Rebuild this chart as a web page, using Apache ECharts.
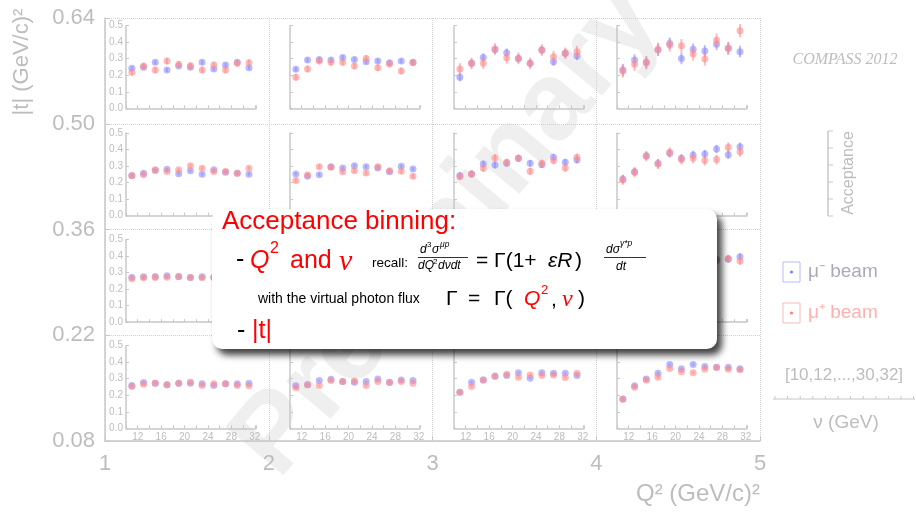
<!DOCTYPE html>
<html>
<head>
<meta charset="utf-8">
<script src="https://cdn.jsdelivr.net/npm/echarts@6/dist/echarts.min.js"></script>
<style>
  html, body { margin: 0; padding: 0; background: #fff; }
  #main { width: 916px; height: 514px; }
</style>
</head>
<body>
<div id="main"></div>
<script>
// nu bin centres of [10,12,...,30,32]
var nuBins = [11, 13, 15, 17, 19, 21, 23, 25, 27, 29, 31];
var q2Labels = ['1', '2', '3', '4', '5'];
var tLabels = ['0.08', '0.22', '0.36', '0.50', '0.64'];

// acceptance per panel, top |t| row first, left to right in Q2
var accMinus = [
  [0.242, 0.248, 0.278, 0.232, 0.256, 0.248, 0.278, 0.238, 0.262, 0.278, 0.246],
  [0.236, 0.292, 0.296, 0.292, 0.308, 0.296, 0.282, 0.286, 0.276, 0.286, 0.278],
  [0.188, 0.272, 0.308, 0.355, 0.337, 0.302, 0.272, 0.353, 0.282, 0.333, 0.317],
  [0.232, 0.292, 0.278, 0.353, 0.393, 0.302, 0.357, 0.347, 0.387, 0.363, 0.343],
  [0.243, 0.257, 0.273, 0.281, 0.253, 0.271, 0.251, 0.277, 0.263, 0.257, 0.251],
  [0.252, 0.238, 0.248, 0.296, 0.288, 0.302, 0.296, 0.288, 0.266, 0.298, 0.282],
  [0.242, 0.252, 0.312, 0.306, 0.317, 0.347, 0.317, 0.308, 0.353, 0.323, 0.337],
  [0.222, 0.266, 0.363, 0.317, 0.377, 0.347, 0.367, 0.373, 0.403, 0.369, 0.417],
  [0.272, 0.274, 0.276, 0.280, 0.276, 0.270, 0.275, 0.270, 0.268, 0.272, 0.270],
  [0.250, 0.280, 0.290, 0.300, 0.295, 0.300, 0.290, 0.300, 0.295, 0.290, 0.300],
  [0.240, 0.270, 0.300, 0.310, 0.320, 0.330, 0.330, 0.340, 0.330, 0.340, 0.340],
  [0.220, 0.270, 0.320, 0.340, 0.360, 0.370, 0.370, 0.380, 0.380, 0.380, 0.395],
  [0.259, 0.277, 0.273, 0.263, 0.273, 0.273, 0.269, 0.259, 0.269, 0.269, 0.273],
  [0.257, 0.263, 0.289, 0.297, 0.283, 0.279, 0.283, 0.299, 0.279, 0.293, 0.289],
  [0.218, 0.279, 0.293, 0.317, 0.319, 0.337, 0.303, 0.337, 0.333, 0.333, 0.319],
  [0.178, 0.257, 0.299, 0.333, 0.386, 0.360, 0.386, 0.374, 0.370, 0.370, 0.360]
];
var accPlus = [
  [0.218, 0.256, 0.232, 0.286, 0.266, 0.258, 0.232, 0.262, 0.232, 0.272, 0.276],
  [0.188, 0.238, 0.286, 0.278, 0.278, 0.256, 0.302, 0.246, 0.268, 0.226, 0.276],
  [0.238, 0.272, 0.272, 0.359, 0.306, 0.302, 0.272, 0.353, 0.312, 0.333, 0.343],
  [0.226, 0.266, 0.276, 0.357, 0.383, 0.379, 0.329, 0.298, 0.413, 0.363, 0.470],
  [0.241, 0.247, 0.277, 0.267, 0.277, 0.302, 0.287, 0.267, 0.267, 0.257, 0.287],
  [0.212, 0.246, 0.296, 0.292, 0.266, 0.272, 0.258, 0.296, 0.272, 0.268, 0.238],
  [0.236, 0.252, 0.286, 0.349, 0.323, 0.347, 0.268, 0.317, 0.333, 0.288, 0.353],
  [0.216, 0.262, 0.359, 0.312, 0.383, 0.339, 0.347, 0.333, 0.339, 0.413, 0.387],
  [0.262, 0.268, 0.270, 0.272, 0.274, 0.270, 0.268, 0.272, 0.266, 0.270, 0.268],
  [0.230, 0.270, 0.290, 0.290, 0.300, 0.290, 0.300, 0.290, 0.290, 0.300, 0.280],
  [0.230, 0.260, 0.300, 0.310, 0.330, 0.320, 0.340, 0.330, 0.340, 0.330, 0.350],
  [0.210, 0.260, 0.310, 0.350, 0.350, 0.370, 0.360, 0.380, 0.370, 0.385, 0.370],
  [0.253, 0.267, 0.273, 0.263, 0.273, 0.281, 0.259, 0.269, 0.269, 0.259, 0.257],
  [0.246, 0.263, 0.259, 0.289, 0.283, 0.287, 0.259, 0.283, 0.277, 0.283, 0.273],
  [0.218, 0.253, 0.293, 0.313, 0.327, 0.309, 0.323, 0.319, 0.323, 0.307, 0.333],
  [0.176, 0.248, 0.293, 0.309, 0.362, 0.343, 0.337, 0.358, 0.368, 0.358, 0.354]
];
// rough half error per panel
var errMinus = [0.012, 0.014, 0.025, 0.035, 0.008, 0.010, 0.020, 0.025, 0.006, 0.008, 0.015, 0.020, 0.004, 0.005, 0.006, 0.008];
var errPlus  = [0.020, 0.020, 0.035, 0.040, 0.010, 0.014, 0.022, 0.030, 0.008, 0.010, 0.018, 0.024, 0.004, 0.005, 0.006, 0.008];

var dom = document.getElementById('main');
var myChart = echarts.init(dom, null, { renderer: 'canvas' });

var grey = '#bdbdbd';
var axisGrey = '#c8c8c8';
var blue = 'rgba(140,140,255,0.6)';
var red = 'rgba(255,140,140,0.6)';
var FONT = '"Liberation Sans", Arial, sans-serif';

var colLeft = [126, 290, 454, 617];
var rowTop = [25.7, 133, 239.5, 345.7];

var grids = [{ left: 105, top: 18, width: 655, height: 423 }];
var xAxes = [{
  type: 'value', gridIndex: 0, min: 1, max: 5, interval: 1,
  axisLine: { lineStyle: { color: axisGrey, width: 1.5 } },
  axisTick: { inside: true, length: 5, lineStyle: { color: axisGrey } },
  axisLabel: { color: grey, fontSize: 22, fontFamily: FONT, margin: 12, formatter: function (v) { return q2Labels[v - 1]; } },
  splitLine: { show: true, lineStyle: { type: 'dotted', color: '#d0d0d0' } }
}];
var yAxes = [{
  type: 'value', gridIndex: 0, min: 0, max: 4, interval: 1,
  axisLine: { show: true, lineStyle: { color: axisGrey, width: 1.5 } },
  axisTick: { show: true, inside: true, length: 5, lineStyle: { color: axisGrey } },
  axisLabel: { color: grey, fontSize: 22, fontFamily: FONT, margin: 10, formatter: function (v) { return tLabels[v]; } },
  splitLine: { show: true, lineStyle: { type: 'dotted', color: '#d0d0d0' } }
}];
var series = [];

function errRender(color) {
  return function (params, api) {
    var x = api.value(0), y = api.value(1), e = api.value(2);
    var p = api.coord([x, y]);
    var lo = api.coord([x, y - e]);
    var hi = api.coord([x, y + e]);
    return {
      type: 'group',
      children: [
        { type: 'line', shape: { x1: p[0], y1: lo[1], x2: p[0], y2: hi[1] }, style: { stroke: color, lineWidth: 2 } },
        { type: 'circle', shape: { cx: p[0], cy: p[1], r: 3.5 }, style: { fill: color } }
      ]
    };
  };
}

for (var k = 0; k < 16; k++) {
  var r = Math.floor(k / 4), c = k % 4;
  grids.push({ left: colLeft[c], top: rowTop[r], width: 130, height: 82.6 });
  xAxes.push({
    type: 'value', gridIndex: k + 1, min: 10, max: 32.2, interval: 2,
    axisLine: { lineStyle: { color: axisGrey, width: 1.5 } },
    axisTick: { inside: true, length: 3, lineStyle: { color: axisGrey } },
    axisLabel: {
      show: r === 3, color: grey, fontSize: 10, fontFamily: FONT, margin: 4,
      formatter: function (v) { return (v >= 12 && (v - 12) % 4 === 0) ? String(v) : ''; }
    },
    splitLine: { show: false }
  });
  yAxes.push({
    type: 'value', gridIndex: k + 1, min: 0, max: 0.5, interval: 0.1,
    axisLine: { show: true, lineStyle: { color: axisGrey, width: 1.5 } },
    axisTick: { show: true, inside: true, length: 3, lineStyle: { color: axisGrey } },
    axisLabel: {
      show: c === 0, color: grey, fontSize: 10, fontFamily: FONT, margin: 3,
      formatter: function (v) { return v.toFixed(1); }
    },
    splitLine: { show: false }
  });
  series.push({
    type: 'custom', name: 'mu- beam', xAxisIndex: k + 1, yAxisIndex: k + 1, z: 3,
    encode: { x: 0, y: 1 },
    renderItem: errRender(blue),
    data: nuBins.map(function (nu, i) { return [nu, accMinus[k][i], errMinus[k]]; })
  });
  series.push({
    type: 'custom', name: 'mu+ beam', xAxisIndex: k + 1, yAxisIndex: k + 1, z: 4,
    encode: { x: 0, y: 1 },
    renderItem: errRender(red),
    data: nuBins.map(function (nu, i) { return [nu, accPlus[k][i], errPlus[k]]; })
  });
}

function txt(x, y, s, size, color, opts) {
  opts = opts || {};
  return {
    type: 'text', x: x, y: y, z: opts.z || 110, rotation: opts.rotation || 0,
    style: {
      text: s,
      font: (opts.style || '') + ' ' + size + 'px ' + (opts.family || FONT),
      fill: color,
      align: opts.align || 'left', textAlign: opts.align || 'left',
      verticalAlign: 'middle', textVerticalAlign: 'middle'
    }
  };
}
function hline(x1, x2, y, color, w, z) {
  return { type: 'line', z: z || 110, shape: { x1: x1, y1: y, x2: x2, y2: y }, style: { stroke: color, lineWidth: w || 1 } };
}

var RED = '#ff0000';
var SERIF = '"Liberation Serif", "Times New Roman", serif';
var graphics = [
  // watermark
  txt(448, 232, 'Preliminary', 110, '#efefef', { style: 'bold', align: 'center', rotation: Math.PI * 50 / 180, z: -1 }),
  // axis titles
  txt(22, 62, '|t| (GeV/c)²', 22, grey, { align: 'center', rotation: Math.PI / 2, z: 1 }),
  txt(760, 494, 'Q² (GeV/c)²', 24, grey, { align: 'right', z: 1 }),
  txt(845, 60, 'COMPASS 2012', 16, grey, { style: 'italic', family: SERIF, align: 'center', z: 1 }),
  // acceptance mini-axis
  { type: 'line', z: 1, shape: { x1: 828, y1: 131, x2: 828, y2: 216 }, style: { stroke: axisGrey, lineWidth: 1.5 } },
  txt(849, 173, 'Acceptance', 16, grey, { align: 'center', rotation: Math.PI / 2, z: 1 }),
  // legend
  { type: 'rect', z: 1, shape: { x: 783, y: 262, width: 17, height: 20 }, style: { fill: 'none', stroke: '#b8b8ff', lineWidth: 1 } },
  { type: 'circle', z: 1, shape: { cx: 791.5, cy: 272, r: 1.6 }, style: { fill: '#8080ff' } },
  txt(808, 272, 'μ⁻ beam', 19, '#aaaabb', { z: 1 }),
  { type: 'rect', z: 1, shape: { x: 783, y: 303, width: 17, height: 20 }, style: { fill: 'none', stroke: '#ffb8b8', lineWidth: 1 } },
  { type: 'circle', z: 1, shape: { cx: 791.5, cy: 313, r: 1.6 }, style: { fill: '#ff8080' } },
  txt(808, 313, 'μ⁺ beam', 19, '#ffb0b0', { z: 1 }),
  // nu mini-axis
  txt(844, 375, '[10,12,...,30,32]', 17, grey, { align: 'center', z: 1 }),
  hline(773, 915, 399, axisGrey, 1.2, 1),
  txt(846, 423, 'ν (GeV)', 19, grey, { align: 'center', z: 1 }),
  // overlay box
  { type: 'rect', z: 100, shape: { x: 212, y: 209, width: 505, height: 140, r: 10 },
    style: { fill: '#ffffff', shadowBlur: 7, shadowOffsetX: 5, shadowOffsetY: 6, shadowColor: 'rgba(0,0,0,0.75)' } },
  txt(222, 222, 'Acceptance binning:', 26, RED),
  txt(236, 260, '-', 25, '#000'),
  txt(250, 261, 'Q', 25, RED, { style: 'italic' }),
  txt(270, 249, '2', 16, RED),
  txt(290, 261, 'and', 25, RED),
  txt(339, 262, 'ν', 30, RED, { style: 'italic', family: SERIF }),
  txt(372, 263, 'recall:', 13.5, '#000'),
  txt(420, 250, 'd', 12, '#000', { style: 'italic' }),
  txt(427, 245, '3', 8, '#000'),
  txt(432, 250, 'σ', 12, '#000', { style: 'italic' }),
  txt(440, 245, 'μp', 8.5, '#000', { style: 'italic' }),
  hline(418, 468, 257.5, '#000', 0.8),
  txt(418, 266, 'dQ', 12, '#000', { style: 'italic' }),
  txt(433, 262, '2', 8, '#000'),
  txt(438, 266, 'dνdt', 12, '#000', { style: 'italic' }),
  txt(476, 261, '= Γ(1+', 21, '#000'),
  txt(548, 261, 'εR', 21, '#000', { style: 'italic' }),
  txt(575, 261, ')', 21, '#000'),
  txt(606, 250, 'dσ', 12, '#000', { style: 'italic' }),
  txt(620, 244, 'γ*p', 8.5, '#000', { style: 'italic' }),
  hline(604, 646, 257.5, '#000', 0.8),
  txt(616, 267, 'dt', 12, '#000', { style: 'italic' }),
  txt(258, 299, 'with the virtual photon flux', 14, '#000'),
  txt(446, 299, 'Γ', 21, '#000'),
  txt(468, 299, '=', 21, '#000'),
  txt(494, 299, 'Γ(', 21, '#000'),
  txt(524, 299, 'Q', 21, RED, { style: 'italic' }),
  txt(541, 290, '2', 13, RED),
  txt(551, 300, ',', 21, '#000'),
  txt(562, 300, 'ν', 24, RED, { style: 'italic', family: SERIF }),
  txt(578, 299, ')', 21, '#000'),
  txt(237, 331, '-', 25, '#000'),
  txt(252, 331, '|t|', 25, RED)
];
// small ticks of the side mini-axes
for (var i = 0; i < 6; i++) {
  graphics.push({ type: 'line', z: 1, shape: { x1: 828, y1: 131 + i * 17, x2: 833, y2: 131 + i * 17 }, style: { stroke: axisGrey, lineWidth: 1 } });
}
for (var j = 0; j < 12; j++) {
  graphics.push({ type: 'line', z: 1, shape: { x1: 775 + j * 12.6, y1: 396, x2: 775 + j * 12.6, y2: 399 }, style: { stroke: axisGrey, lineWidth: 1 } });
}

var option = {
  backgroundColor: '#ffffff',
  animation: false,
  grid: grids,
  xAxis: xAxes,
  yAxis: yAxes,
  series: series,
  graphic: { elements: graphics }
};

myChart.setOption(option);
window.addEventListener('resize', myChart.resize);
</script>
</body>
</html>
